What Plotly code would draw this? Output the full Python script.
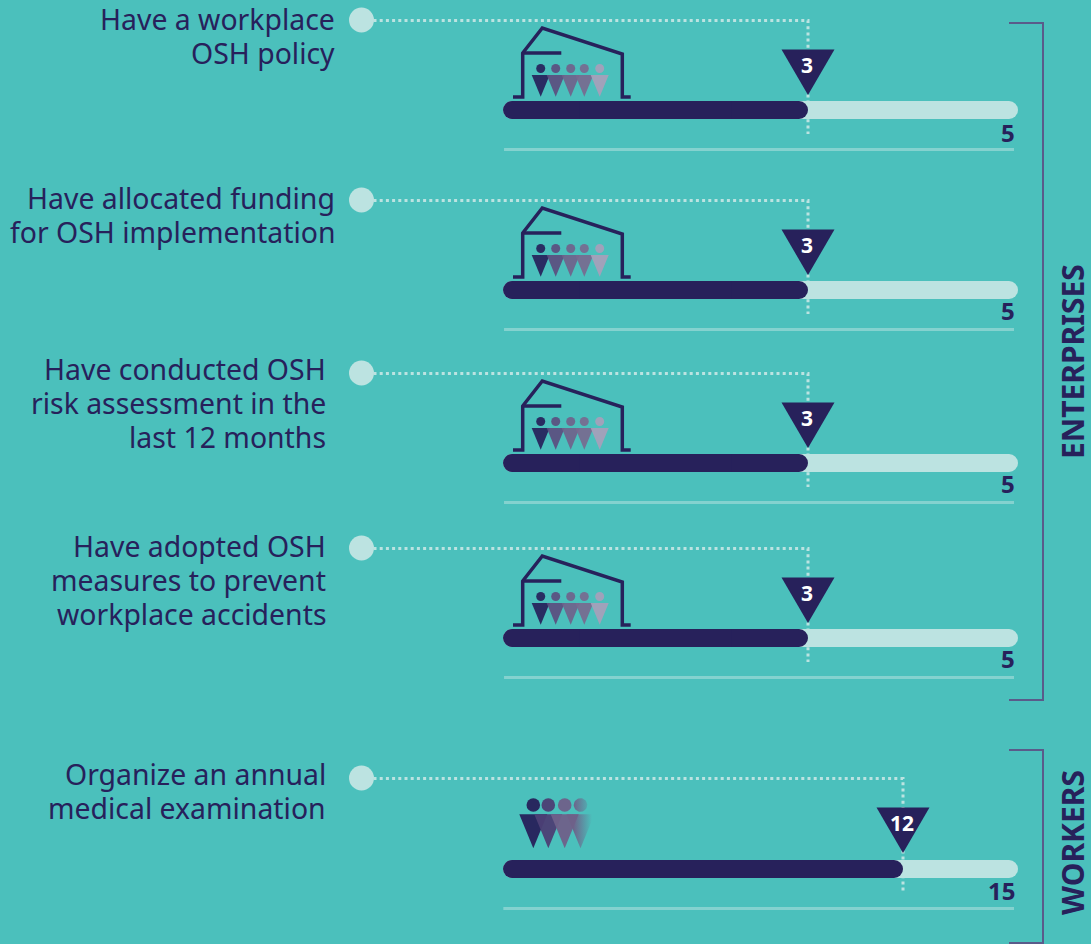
import numpy as np
import plotly.graph_objects as go

# ---- data -------------------------------------------------------------
ROW_LABELS = [
    "Have a workplace<br>OSH policy",
    "Have allocated funding<br>for OSH implementation",
    "Have conducted OSH<br>risk assessment in the<br>last 12 months",
    "Have adopted OSH<br>measures to prevent<br>workplace accidents",
    "Organize an annual<br>medical examination",
]
VALUES = [3, 3, 3, 3, 12]
TOTALS = [5, 5, 5, 5, 15]
GROUP_NAMES = ["ENTERPRISES", "WORKERS"]

# ---- layout constants (pixels of the 1091x944 canvas) ------------------
W, H = 1091, 944
BG, DARK, LIGHT, RULE, BRACKET = "#4BC0BC", "#27215B", "#BCE3E1", "#84D2CF", "#5A5B8A"
FONT = "Noto Sans"
X0 = 503                      # pixel of value 0
TRACK_END = 1018
SCALES = [305 / 3, 400 / 12]  # pixels per unit, one axis per group
ROW_AXIS = [0, 0, 0, 0, 1]
BAR_Y = [110, 290, 463, 638, 869]
LINK_Y = [20.5, 200.5, 373.5, 548.5, 778.5]
LABEL_FIRST_Y = [19, 198, 369, 546, 774]
LABEL_STEP = 34
LABEL_RIGHT = [337, 337, 328, 328, 328]
TIP_OFFSET = [15, 15, 15, 15, 16]
TOTAL_OFFSET = [22, 20, 20, 20, 21]
DOT_X = 361.5

def axis_range(s):
    return [-X0 / s, (W - X0) / s]

def to_x(px, ax):
    return (px - X0) / SCALES[ax]

fig = go.Figure()
shapes, annotations = [], []
refs = [("x", "y"), ("x2", "y")]

def pill(end, y, color, xr):
    # two halves grown from the middle, so that both ends get rounded corners,
    # and a plain bar that closes the seam between them
    mid = end / 2
    fig.add_trace(go.Bar(x=[mid, -mid], base=[mid, mid], y=[y, y], width=18, orientation="h",
                         marker=dict(color=color, cornerradius=9, line=dict(width=0)),
                         xaxis=xr, yaxis="y", showlegend=False, hoverinfo="skip"))
    fig.add_trace(go.Bar(x=[mid], base=[mid / 2], y=[y], width=18, orientation="h",
                         marker=dict(color=color, cornerradius=0, line=dict(width=0)),
                         xaxis=xr, yaxis="y", showlegend=False, hoverinfo="skip"))

for i, (v, t) in enumerate(zip(VALUES, TOTALS)):
    ax = ROW_AXIS[i]
    xr, yr = refs[ax]
    y = BAR_Y[i]
    pill(to_x(TRACK_END, ax), y, LIGHT, xr)
    pill(v, y, DARK, xr)
    # dotted connector (under the bars)
    x_start = to_x(DOT_X + 12, ax)
    shapes.append(dict(type="path", xref=xr, yref=yr, layer="below",
                       path=f"M{x_start},{LINK_Y[i]}L{v},{LINK_Y[i]}L{v},{y + 24}",
                       line=dict(color=LIGHT, width=3, dash="3px,3.2px")))
    # start dot
    shapes.append(dict(type="circle", xref=xr, yref=yr, layer="below",
                       xsizemode="pixel", ysizemode="pixel",
                       xanchor=to_x(DOT_X, ax), yanchor=LINK_Y[i] - 0.5,
                       x0=-12.5, x1=12.5, y0=-12.5, y1=12.5,
                       fillcolor=LIGHT, line=dict(width=0)))
    # value triangle
    tip = TIP_OFFSET[i]
    shapes.append(dict(type="path", xref=xr, yref=yr, layer="above",
                       xsizemode="pixel", ysizemode="pixel", xanchor=v, yanchor=y,
                       path=f"M-26.5,{tip + 45.5}L26.5,{tip + 45.5}L0,{tip}Z",
                       fillcolor=DARK, line=dict(width=0)))
    annotations.append(dict(text=f"<b>{v}</b>", x=to_x(to_x(0, ax) * 0 + X0 + v * SCALES[ax] - 0.7, ax),
                            y=y - 46 + (1 if ax == 0 else 0), xref=xr, yref=yr,
                            showarrow=False, xanchor="center", yanchor="middle",
                            font=dict(family=FONT, size=21, color="white")))
    # rule and total
    shapes.append(dict(type="line", xref=xr, yref=yr, layer="below",
                       x0=0.01, x1=to_x(1014, ax), y0=y + 39.5, y1=y + 39.5,
                       line=dict(color=RULE, width=3)))
    annotations.append(dict(text=f"<b>{t}</b>", x=to_x(1017, ax), y=y + TOTAL_OFFSET[i],
                            xref=xr, yref=yr,
                            showarrow=False, xanchor="right", yanchor="middle",
                            font=dict(family=FONT, size=24, color=DARK)))
    # row label, one line at a time
    for k, line in enumerate(ROW_LABELS[i].split("<br>")):
        annotations.append(dict(text=line, x=LABEL_RIGHT[i] / W, y=LABEL_FIRST_Y[i] + k * LABEL_STEP,
                                xref="paper", yref="y", showarrow=False, xanchor="right",
                                yanchor="middle", align="right",
                                font=dict(family=FONT, size=28.4, color=DARK)))

# ---- pictograms --------------------------------------------------------
def person(x_c, head_y, r, top, tip, half, color, xr, anchor_y, op=0.93):
    common = dict(xref=xr, yref="y", xsizemode="pixel", ysizemode="pixel",
                  xanchor=0, yanchor=anchor_y, layer="below", opacity=op)
    shapes.append(dict(type="path", path=f"M{x_c - half},{top}L{x_c + half},{top}L{x_c},{tip}Z",
                       fillcolor=color, line=dict(width=0), **common))
    shapes.append(dict(type="circle", x0=x_c - r, x1=x_c + r, y0=head_y - r, y1=head_y + r,
                       fillcolor=color, line=dict(width=0), **common))

ENT_PEOPLE_X = [37.7, 52.7, 67.7, 81.3, 96.7]
ENT_COLORS = ["#27215B", "#5B4F80", "#6F638C", "#776B90", "#A79FBA"]
BUILDING = "M10,13L19.7,13L19.7,57L39.3,82L119.3,56L119.3,13L127.7,13"
BUILDING_IN = "M19.7,57L58.3,57"
for i, y in enumerate(BAR_Y):
    if ROW_AXIS[i] != 0:
        continue
    for p in (BUILDING, BUILDING_IN):
        shapes.append(dict(type="path", xref="x", yref="y", xsizemode="pixel", ysizemode="pixel",
                           xanchor=0, yanchor=y, path=p, layer="below",
                           line=dict(color=DARK, width=3.5)))
    for xc, c in zip(ENT_PEOPLE_X, ENT_COLORS):
        person(xc, 41.5, 4.5, 35, 13.3, 9, c, "x", y)

# workers pictogram: three solid figures, the fourth fades out
yb = BAR_Y[4]
for xc, c in zip([30.3, 45.3, 61.7], ["#27215B", "#4C4075", "#6E6189"]):
    person(xc, 64, 6.8, 54.7, 20.7, 14, c, "x2", yb, op=0.96)
fade = dict(type="horizontal",
            colorscale=[[0, "rgba(110,97,137,1)"], [1, "rgba(110,97,137,0)"]],
            start=to_x(573, 1), stop=to_x(592, 1))
fx = 580.5
tx = [to_x(fx - 14, 1), to_x(fx + 14, 1), to_x(fx, 1), to_x(fx - 14, 1)]
ty = [yb - 54.7, yb - 54.7, yb - 20.7, yb - 54.7]
fig.add_trace(go.Scatter(x=tx, y=ty, mode="lines", line=dict(width=0), fill="toself",
                         fillgradient=fade, xaxis="x2", yaxis="y",
                         showlegend=False, hoverinfo="skip"))
ang = np.linspace(0, 2 * np.pi, 41)
fig.add_trace(go.Scatter(x=to_x(fx + 6.8 * np.cos(ang), 1), y=yb - 64 + 6.8 * np.sin(ang),
                         mode="lines", line=dict(width=0), fill="toself", fillgradient=fade,
                         xaxis="x2", yaxis="y", showlegend=False, hoverinfo="skip"))

# ---- group brackets ----------------------------------------------------
BRACKETS = [(23, 700), (750, 943)]
GROUP_LABEL_Y = [362, 843]
for (top, bottom), name, ly in zip(BRACKETS, GROUP_NAMES, GROUP_LABEL_Y):
    shapes.append(dict(type="path", xref="paper", yref="y", layer="below",
                       path=f"M{1009 / W},{top}L{1043 / W},{top}L{1043 / W},{bottom}L{1009 / W},{bottom}",
                       line=dict(color=BRACKET, width=2)))
    annotations.append(dict(text=f"<b>{name}</b>", x=1072 / W, y=ly, xref="paper", yref="y",
                            showarrow=False, textangle=-90, xanchor="center", yanchor="middle",
                            font=dict(family=FONT, size=30, color=DARK)))

hidden = dict(visible=False, fixedrange=True)
fig.update_layout(
    width=W, height=H, autosize=False,
    margin=dict(l=0, r=0, t=0, b=0, pad=0),
    paper_bgcolor=BG, plot_bgcolor=BG, barmode="overlay", showlegend=False,
    xaxis=dict(range=axis_range(SCALES[0]), domain=[0, 1], **hidden),
    xaxis2=dict(range=axis_range(SCALES[1]), domain=[0, 1], overlaying="x", **hidden),
    yaxis=dict(range=[H, 0], domain=[0, 1], **hidden),
    shapes=shapes, annotations=annotations,
)
fig.write_html("out.html", config={"displayModeBar": False},
               post_script="document.body.style.margin='0';document.body.style.overflow='hidden';")
